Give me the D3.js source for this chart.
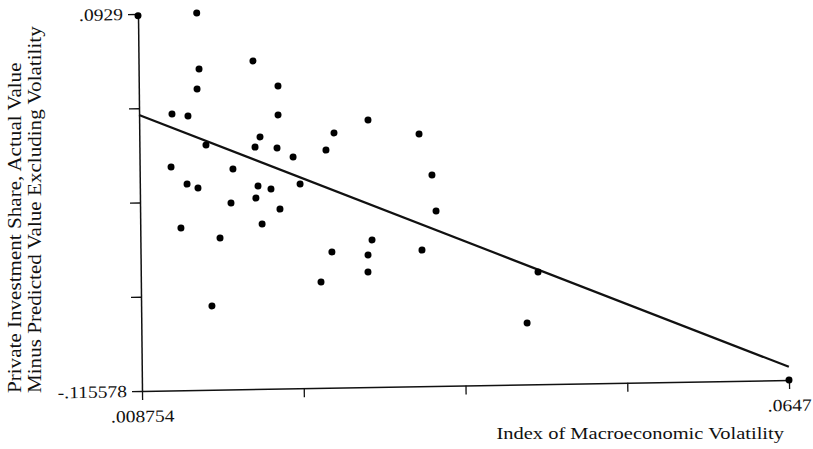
<!DOCTYPE html>
<html>
<head>
<meta charset="utf-8">
<script src="https://cdnjs.cloudflare.com/ajax/libs/d3/7.8.5/d3.min.js"></script>
<style>
  body { margin: 0; background: #fff; }
  svg text { font-family: "Liberation Serif", "Times New Roman", serif; fill: #111; }
</style>
</head>
<body>
<svg width="813" height="449"></svg>
<script>
// volatility index (x) and residual private investment share (y)
var volatility = [0.008754, 0.01383, 0.01398, 0.01379, 0.01865, 0.02079, 0.01160, 0.01298, 0.02077, 0.02854,
  0.01451, 0.01919, 0.01875, 0.02065, 0.02559, 0.02488, 0.02203, 0.03294, 0.01147, 0.01682,
  0.03402, 0.01284, 0.01378, 0.01897, 0.02009, 0.02261, 0.01878, 0.01662, 0.02085, 0.03434,
  0.01227, 0.01929, 0.01564, 0.02878, 0.02530, 0.02842, 0.03309, 0.02433, 0.02840, 0.04310,
  0.01488, 0.04211, 0.0647];
var residual = [0.0920, 0.0929, 0.0619, 0.0509, 0.0659, 0.0518, 0.0373, 0.0360, 0.0358, 0.0321,
  0.0198, 0.0238, 0.0182, 0.0175, 0.0253, 0.0159, 0.0124, 0.0239, 0.0080, 0.0063,
  0.0011, -0.0016, -0.0039, -0.0033, -0.0051, -0.0026, -0.0100, -0.0125, -0.0163, -0.0188,
  -0.0258, -0.0244, -0.0317, -0.0342, -0.0405, -0.0425, -0.0403, -0.0570, -0.0519, -0.0535,
  -0.0692, -0.0816, -0.115578];

// fitted line end points
var fitX = [0.008754, 0.0647];
var fitY = [0.0371, -0.1083];

var xTickValues = [0.008754, 0.022741, 0.036727, 0.050714, 0.0647];
var xTickLabels = [".008754", "", "", "", ".0647"];
var yTickValues = [0.0929, 0.040781, -0.011339, -0.063458, -0.115578];
var yTickLabels = [".0929", "", "", "", "-.115578"];

var svg = d3.select("svg");
var W = 647, H = 377;

var x = d3.scaleLinear().domain([0.008754, 0.0647]).range([0, W]);
var y = d3.scaleLinear().domain([-0.115578, 0.0929]).range([H, 0]);

// the lettering in the scan is wider than Times
function widen(sel, k) {
  sel.each(function() {
    var w = this.getComputedTextLength();
    if (w > 0) d3.select(this).attr("textLength", w * k).attr("lengthAdjust", "spacingAndGlyphs");
  });
}

// the scanned page is slightly tilted
var g = svg.append("g")
  .attr("transform", "matrix(1,-0.017,0.0106,1,138,14)");

var yAxis = d3.axisLeft(y)
  .tickValues(yTickValues)
  .tickSize(10)
  .tickSizeOuter(0)
  .tickPadding(5)
  .tickFormat(function(d, i) { return yTickLabels[i]; });

var xAxis = d3.axisBottom(x)
  .tickValues(xTickValues)
  .tickSize(9)
  .tickSizeOuter(0)
  .tickPadding(10)
  .tickFormat(function(d, i) { return xTickLabels[i]; });

var gy = g.append("g").call(yAxis);
var gx = g.append("g").attr("transform", "translate(0," + H + ")").call(xAxis);

[gx, gy].forEach(function(a) {
  a.select(".domain").attr("stroke", "#111").attr("stroke-width", 1.5);
  a.selectAll(".tick line").attr("stroke", "#111").attr("stroke-width", 1.3);
  a.selectAll(".tick text").attr("font-size", 17).attr("font-family", "Liberation Serif").attr("fill", "#111");
  widen(a.selectAll(".tick text"), 1.15);
});

g.append("line")
  .attr("x1", x(fitX[0])).attr("y1", y(fitY[0]))
  .attr("x2", x(fitX[1])).attr("y2", y(fitY[1]))
  .attr("stroke", "#111")
  .attr("stroke-width", 2.2);

g.selectAll("circle")
  .data(volatility)
  .enter()
  .append("circle")
  .attr("cx", function(d) { return x(d); })
  .attr("cy", function(d, i) { return y(residual[i]); })
  .attr("r", 3.5)
  .attr("fill", "#000");

var xTitle = svg.append("text")
  .attr("x", 784).attr("y", 439)
  .attr("text-anchor", "end")
  .attr("font-size", 17.5)
  .text("Index of Macroeconomic Volatility");
widen(xTitle, 1.17);

var yTitle = svg.append("text")
  .attr("transform", "translate(21,393) rotate(-90)")
  .attr("font-size", 18.5);
yTitle.append("tspan").attr("x", 0).attr("y", 0).text("Private Investment Share, Actual Value");
yTitle.append("tspan").attr("x", 0).attr("y", 20).text("Minus Predicted Value Excluding Volatility");
widen(yTitle.selectAll("tspan"), 1.14);
</script>
</body>
</html>
